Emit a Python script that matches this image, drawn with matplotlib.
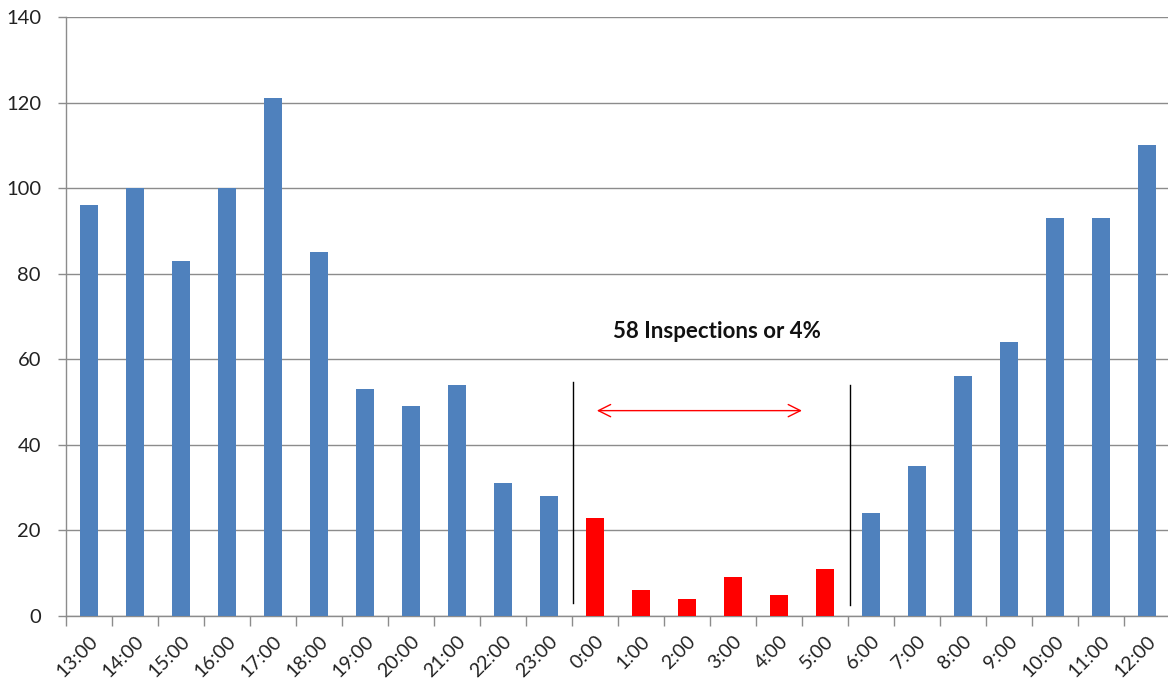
import matplotlib.pyplot as plt
import numpy as np

plt.rcParams['font.family'] = ['Lato', 'DejaVu Sans']

# 시간대별 검사 건수
hours = ['13:00', '14:00', '15:00', '16:00', '17:00', '18:00', '19:00', '20:00',
         '21:00', '22:00', '23:00', '0:00', '1:00', '2:00', '3:00', '4:00',
         '5:00', '6:00', '7:00', '8:00', '9:00', '10:00', '11:00', '12:00']
counts = [96, 100, 83, 100, 121, 85, 53, 49, 54, 31, 28, 23, 6, 4, 9, 5,
          11, 24, 35, 56, 64, 93, 93, 110]
night_hours = ['0:00', '1:00', '2:00', '3:00', '4:00', '5:00']
note = '58 Inspections or 4%'

blue = '#4F81BD'
red = '#FF0000'
grid_c = '#8C8C8C'

colors = [red if h in night_hours else blue for h in hours]
x = np.arange(len(hours))

fig = plt.figure(figsize=(11.68, 6.88), dpi=100)
ax = fig.add_axes([66 / 1168, 1 - 616 / 688, 1104 / 1168, 599 / 688])

ax.bar(x, counts, width=0.41, color=colors, zorder=3)

ax.set_xlim(-0.5, len(hours) - 0.5)
ax.set_ylim(0, 140)
ax.set_yticks(range(0, 141, 20))
ax.yaxis.grid(True, color=grid_c, linewidth=1.0, zorder=0)

# 카테고리 라벨과 경계 눈금
ax.set_xticks(x)
ax.set_xticklabels(hours, rotation=45, ha='right', rotation_mode='anchor')
ax.set_xticks(np.arange(-0.5, len(hours), 1), minor=True)
ax.tick_params(axis='x', which='major', length=0, pad=12, labelsize=14,
               labelcolor='#222222')
ax.tick_params(axis='x', which='minor', length=7, color=grid_c, width=1)
ax.tick_params(axis='y', length=6, color=grid_c, width=1, pad=12,
               labelsize=14.5, labelcolor='#222222')

for s in ['top', 'right']:
    ax.spines[s].set_visible(False)
for s in ['left', 'bottom']:
    ax.spines[s].set_color(grid_c)
    ax.spines[s].set_linewidth(1.0)

# 야간 구간 표시
first = hours.index(night_hours[0])
last = hours.index(night_hours[-1])
ax.plot([first - 0.47, first - 0.47], [3, 54.7], color='black', lw=1, zorder=4)
ax.plot([last + 0.54, last + 0.54], [2.6, 54], color='black', lw=1, zorder=4)
ax.annotate('', xy=(last - 0.44, 48), xytext=(first - 0.02, 48),
            arrowprops=dict(arrowstyle='<->', color=red, lw=1,
                            mutation_scale=22), zorder=4)
ax.text((first + last) / 2 + 0.14, 66.4, note, ha='center', va='center',
        fontsize=16, fontweight='bold', color='#111111')

fig.savefig('out.png', dpi=100)
